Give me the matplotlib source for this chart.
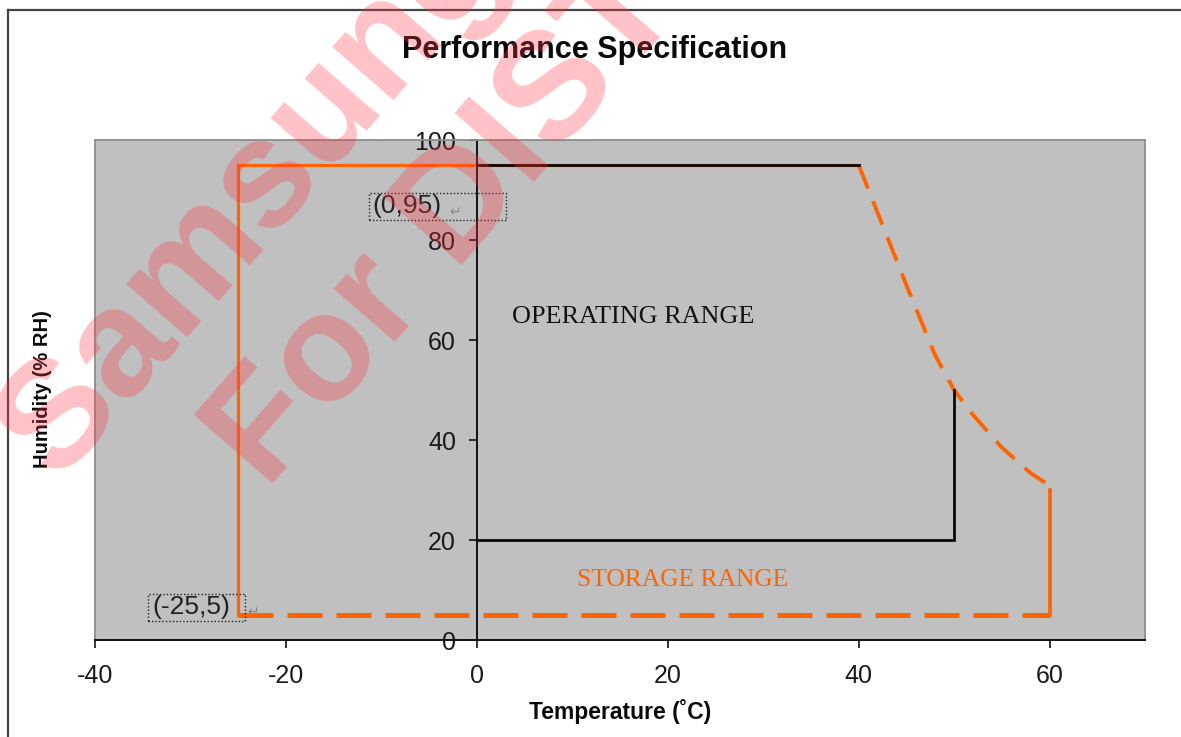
import matplotlib
matplotlib.use('Agg')
import matplotlib.pyplot as plt
from matplotlib.patches import Rectangle
from matplotlib.lines import Line2D

# ---------------- data ----------------
storage_solid_x = [-25, -25, 40]
storage_solid_y = [5, 95, 95]
storage_curve_x = [40, 45, 48, 50, 52, 55, 58, 59.6]
storage_curve_y = [95, 71, 57, 50, 45, 38.5, 33.4, 31.4]
storage_right_x = [60, 60]
storage_right_y = [30, 5]
storage_bottom_x = [-25, 60]
storage_bottom_y = [5, 5]

oper_top_x = [0, 40]
oper_top_y = [95, 95]
oper_side_x = [50, 50, 0]
oper_side_y = [50, 20, 20]

xticks = [-40, -20, 0, 20, 40, 60]
yticks = [0, 20, 40, 60, 80, 100]
point_labels = ["(0,95)", "(-25,5)"]

SANS = ['Liberation Sans', 'DejaVu Sans']
SERIF = ['Liberation Serif', 'DejaVu Serif']
ORANGE = '#FF6400'

W, H = 1181, 737
fig = plt.figure(figsize=(W / 100, H / 100), dpi=100)
ax = fig.add_axes([95 / W, 1 - 640 / H, 1050 / W, 500 / H])
ax.set_xlim(-40, 70)
ax.set_ylim(0, 100)
ax.set_facecolor('#C0C0C0')

# spines
ax.spines['left'].set_position(('data', 0))
ax.spines['left'].set_color('#111111')
ax.spines['left'].set_linewidth(1.4)
ax.spines['bottom'].set_color('#111111')
ax.spines['bottom'].set_linewidth(1.4)
for s in ['top', 'right']:
    ax.spines[s].set_color('#8C8C8C')
    ax.spines[s].set_linewidth(1.3)
ax.add_line(Line2D([0, 0], [0, 1], transform=ax.transAxes, color='#8C8C8C',
                   lw=1.3, clip_on=False, zorder=1))

ax.set_xticks(xticks)
ax.set_yticks(yticks)
ax.set_xticklabels([str(v) for v in xticks])
ax.set_yticklabels([str(v) for v in yticks])
ax.tick_params(axis='both', direction='out', length=6, width=1.2,
               color='#111111', labelcolor='#1A1A1A', labelsize=18)
ax.tick_params(axis='y', pad=9)
ax.tick_params(axis='x', pad=11)
for lab in ax.get_xticklabels() + ax.get_yticklabels():
    lab.set_family(SANS)

# storage range
ax.plot(storage_solid_x, storage_solid_y, color=ORANGE, lw=2.3,
        solid_joinstyle='miter', zorder=3)
ax.plot(storage_curve_x, storage_curve_y, color=ORANGE, lw=2.8,
        linestyle=(0, (6.5, 3.5)), zorder=3)
ax.plot(storage_right_x, storage_right_y, color=ORANGE, lw=2.6, zorder=3)
ax.plot(storage_bottom_x, storage_bottom_y, color=ORANGE, lw=3.6,
        linestyle=(0, (7, 2.8)), zorder=3)

# operating range
ax.plot(oper_top_x, oper_top_y, color='#0A0A0A', lw=2.0, zorder=4)
ax.plot(oper_side_x, oper_side_y, color='#0A0A0A', lw=2.0, zorder=4,
        solid_joinstyle='miter')

# range labels
ax.text(3.7, 64.6, 'OPERATING RANGE', family=SERIF, fontsize=18.8,
        color='#111111', ha='left', va='center', zorder=5)
ax.text(10.5, 12.0, 'STORAGE RANGE', family=SERIF, fontsize=18.4,
        color=ORANGE, ha='left', va='center', zorder=5)

# point annotations with dotted boxes
ax.add_patch(Rectangle((-11.3, 84.0), 14.4, 5.4, fill=False, ec='#222222',
                       lw=1.0, ls=(0, (1, 1.5)), zorder=5))
ax.text(-10.9, 86.7, point_labels[0], family=SANS, fontsize=19,
        color='#222222', ha='left', va='center', zorder=6)
ax.text(-2.9, 85.6, '↵', family=['DejaVu Sans'], fontsize=10,
        color='#888888', ha='left', va='center', zorder=6)
ax.add_patch(Rectangle((-34.4, 3.8), 10.1, 5.4, fill=False, ec='#222222',
                       lw=1.0, ls=(0, (1, 1.5)), zorder=5))
ax.text(-34.0, 6.6, point_labels[1], family=SANS, fontsize=19,
        color='#222222', ha='left', va='center', zorder=6)
ax.text(-24.0, 5.6, '↵', family=['DejaVu Sans'], fontsize=10,
        color='#888888', ha='left', va='center', zorder=6)

# titles
fig.text(595 / W, 1 - 50 / H, 'Performance Specification', family=SANS,
         fontsize=22, weight='bold', ha='center', va='center', color='#0A0A0A')
fig.text(620 / W, 1 - 712 / H, 'Temperature (˚C)', family=SANS,
         fontsize=16.5, weight='bold', ha='center', va='center', color='#0A0A0A')
fig.text(43 / W, 1 - 468 / H, 'Humidity (% RH)', family=SANS, fontsize=14.5,
         weight='bold', rotation=90, ha='center', va='bottom', color='#0A0A0A')

# outer frame
fig.add_artist(Line2D([8 / W, 1], [1 - 10 / H, 1 - 10 / H], transform=fig.transFigure,
                      color='#444444', lw=1.6))
fig.add_artist(Line2D([8 / W, 8 / W], [0, 1 - 10 / H], transform=fig.transFigure,
                      color='#444444', lw=1.6))

# watermark
wm = dict(rotation=49, rotation_mode='anchor', ha='center', va='center',
          fontsize=110, weight='bold', color=(1.0, 0.2, 0.25), alpha=0.3,
          family=SANS, zorder=20)
fig.text(254 / W, 1 - 197 / H, 'Samsung', **wm)
fig.text(446 / W, 1 - 225 / H, 'For DIST', **wm)

fig.savefig('out.png', dpi=100)
